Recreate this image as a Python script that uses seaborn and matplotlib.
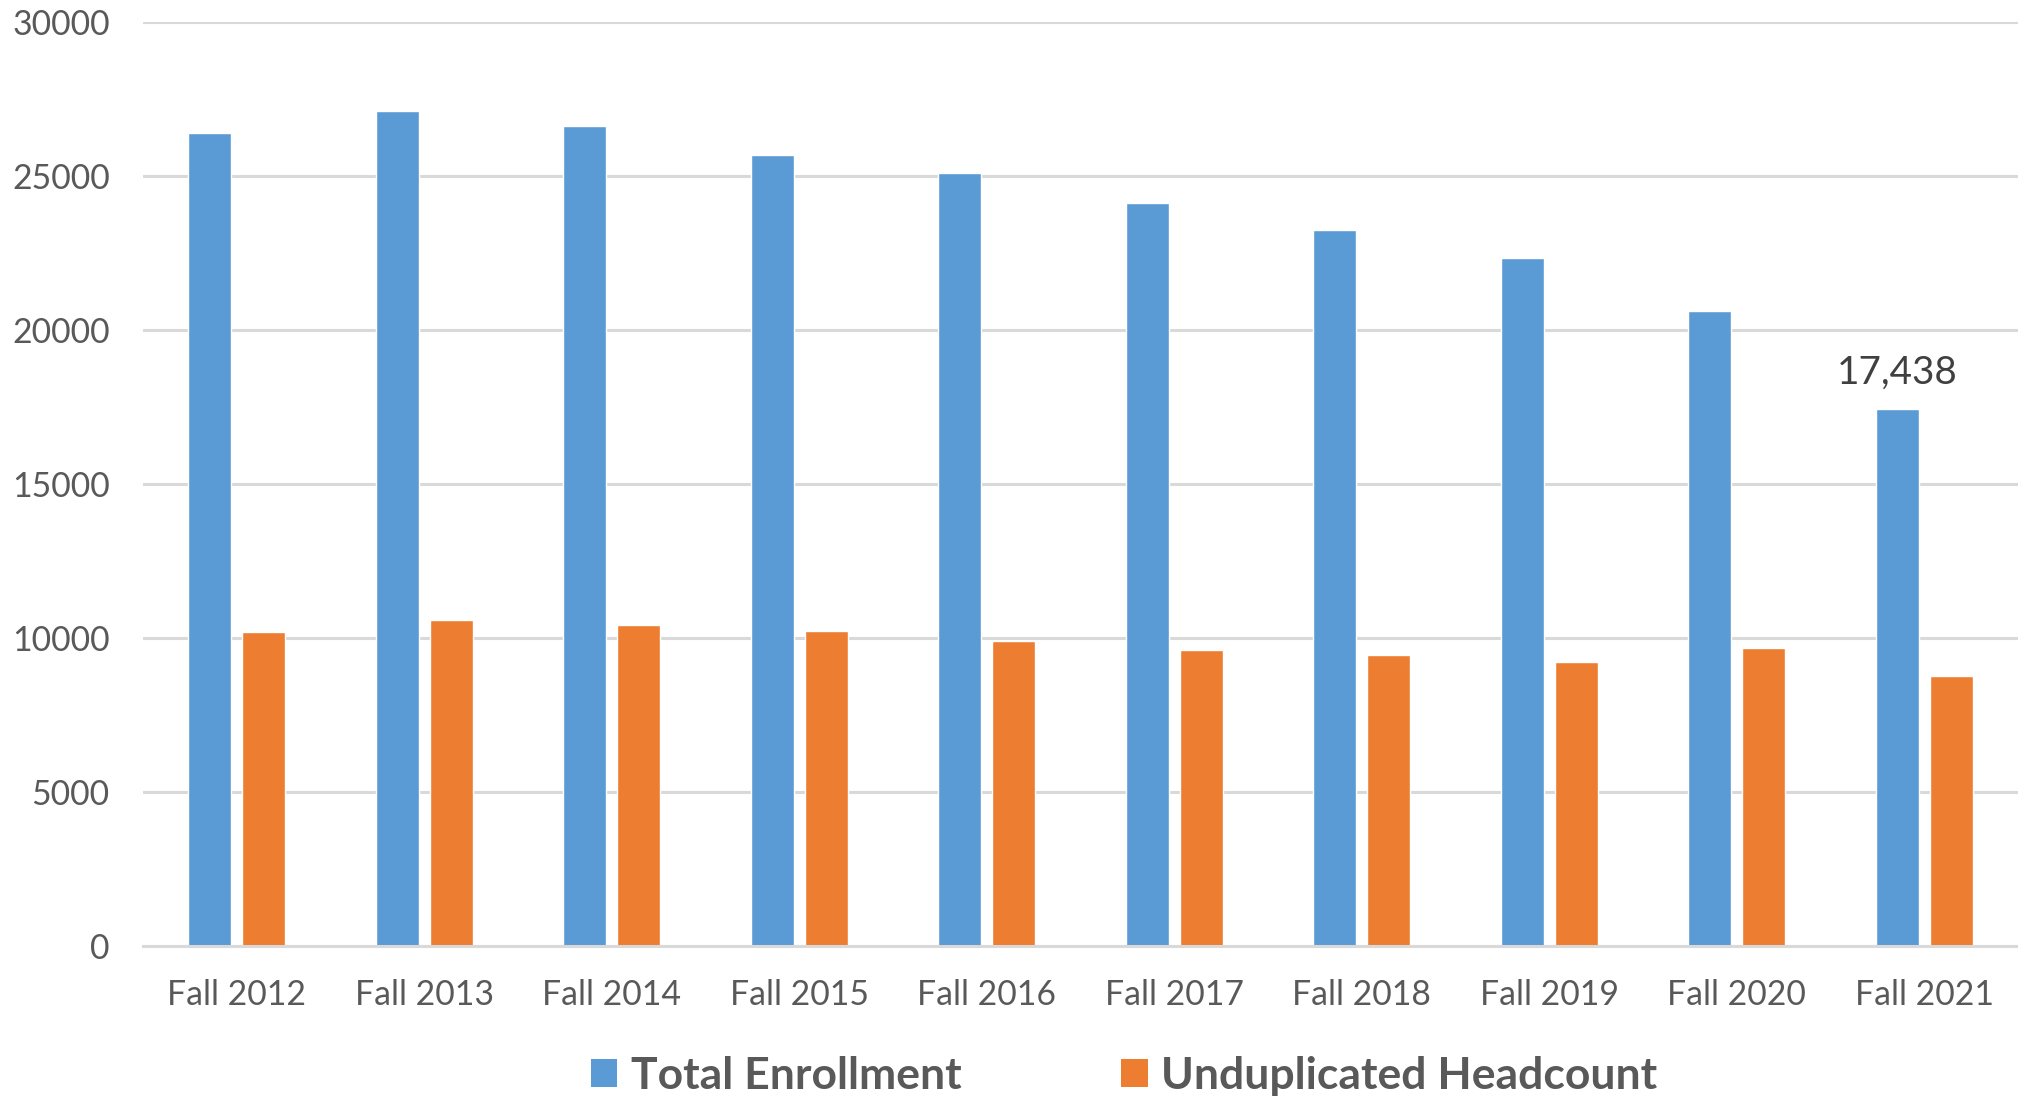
import matplotlib
matplotlib.use("Agg")
import matplotlib.pyplot as plt
import seaborn as sns
import pandas as pd
from matplotlib.patches import Patch

terms = ["Fall 2012", "Fall 2013", "Fall 2014", "Fall 2015", "Fall 2016",
         "Fall 2017", "Fall 2018", "Fall 2019", "Fall 2020", "Fall 2021"]
total_enrollment = [26400, 27120, 26610, 25680, 25100, 24120, 23240, 22340, 20620, 17438]
unduplicated_headcount = [10190, 10580, 10410, 10215, 9910, 9610, 9455, 9215, 9690, 8757]
series_names = ["Total Enrollment", "Unduplicated Headcount"]
colors = ["#5B9BD5", "#ED7D31"]
label_text = "17,438"
label_index = 9

df = pd.DataFrame({
    "term": terms * 2,
    "value": total_enrollment + unduplicated_headcount,
    "series": [series_names[0]] * len(terms) + [series_names[1]] * len(terms),
})

sns.set_theme(style="white")
plt.rcParams["font.family"] = ["Lato", "DejaVu Sans"]

fig = plt.figure(figsize=(20.18, 11), dpi=100)
ax = fig.add_axes([0.0709, 0.14, 0.9291, 0.84])

sns.barplot(data=df, x="term", y="value", hue="series", palette=colors,
            width=0.576, gap=0.2, ax=ax, legend=False, saturation=1)

ax.set_ylim(0, 30000)
ax.set_xlim(-0.5, len(terms) - 0.5)
ax.set_yticks(range(0, 30001, 5000))
ax.set_yticklabels([str(v) for v in range(0, 30001, 5000)])
ax.yaxis.grid(True, color="#d9d9d9", linewidth=2.2)
ax.set_axisbelow(True)
for s in ["top", "right", "left"]:
    ax.spines[s].set_visible(False)
ax.spines["bottom"].set_color("#d9d9d9")
ax.spines["bottom"].set_linewidth(2.2)
ax.set_xlabel("")
ax.set_ylabel("")
ax.tick_params(axis="both", length=0, labelsize=24.3, labelcolor="#595959")
ax.tick_params(axis="x", pad=24)
ax.tick_params(axis="y", pad=24)

# data label on the last total-enrollment bar
bar = ax.containers[0][label_index]
ax.text(bar.get_x() + bar.get_width() / 2, bar.get_height() + 600, label_text,
        ha="center", va="bottom", fontsize=27.8, color="#404040")

handles = [Patch(facecolor=c, edgecolor="none") for c in colors]
fig.legend(handles, series_names, loc="center", bbox_to_anchor=(0.557, 0.022),
           ncol=2, frameon=False, prop={"size": 32, "weight": "bold"},
           labelcolor="#595959", handlelength=0.6, handleheight=0.6,
           handletextpad=0.3, columnspacing=3.6)

fig.savefig("out.png", dpi=100)
